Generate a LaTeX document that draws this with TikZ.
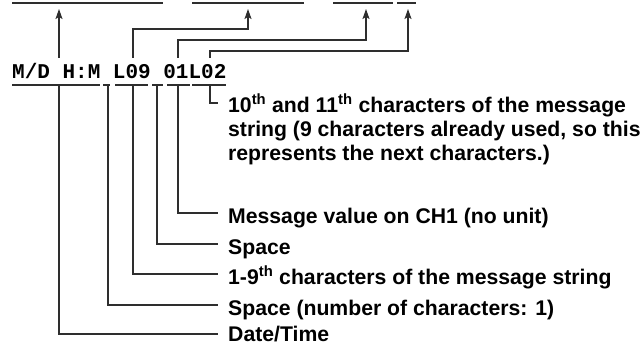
\documentclass[tikz,border=0pt]{standalone}
\usepackage{fontspec}
\setmainfont{Liberation Sans}
\newfontfamily\codefont{Liberation Mono}
\usetikzlibrary{arrows.meta}
\definecolor{linegray}{HTML}{2E2E2E}
\begin{document}
\begin{tikzpicture}[x=1pt,y=-1pt,
  lbl/.style={anchor=base west,inner sep=0pt,font=\fontsize{21.2}{24}\selectfont\bfseries},
  codetxt/.style={anchor=base west,inner sep=0pt,font=\fontsize{21}{24}\codefont\bfseries},
  bar/.style={draw=linegray,line width=2pt},
  uline/.style={draw=linegray,line width=1.7pt},
  conn/.style={draw=linegray,line width=1.2pt},
  arr/.style={conn,-{Stealth[length=10pt,width=7pt,inset=2pt]}}]
\useasboundingbox (0,0) rectangle (643,345);

% code string
\node[codetxt] (code) at (12,78) {M/D H:M L09 01L02};

% underline segments
\coordinate (ua1) at (12,85);  \coordinate (ub1) at (100,85);
\coordinate (ua2) at (103,85); \coordinate (ub2) at (110,85);
\coordinate (ua3) at (115,85); \coordinate (ub3) at (148,85);
\coordinate (ua4) at (152,85); \coordinate (ub4) at (163,85);
\coordinate (ua5) at (167,85); \coordinate (ub5) at (190,85);
\coordinate (ua6) at (192,85); \coordinate (ub6) at (226,85);
\foreach \i in {1,...,6} {\draw[uline] (ua\i) -- (ub\i);}

% top bars
\coordinate (ta1) at (12,3);  \coordinate (tb1) at (163,3);
\coordinate (ta2) at (192,3); \coordinate (tb2) at (304,3);
\coordinate (ta3) at (333,3); \coordinate (tb3) at (393,3);
\coordinate (ta4) at (397,3); \coordinate (tb4) at (416,3);
\foreach \i in {1,...,4} {\draw[bar] (ta\i) -- (tb\i);}

% arrow tips (just below bars)
\coordinate (tip1) at (59,9);
\coordinate (tip2) at (248,9);
\coordinate (tip3) at (366,9);
\coordinate (tip4) at (408,9);

% upper connector starts (just above code text)
\coordinate (s1) at (59,58);
\coordinate (s2) at (133,58);
\coordinate (s3) at (178,58);
\coordinate (s4) at (210,58);
\coordinate (k2) at (133,29);
\coordinate (k3) at (178,40);
\coordinate (k4) at (210,51);

\draw[arr] (s1) -- (tip1);
\draw[arr] (s2) -- (k2) -| (tip2);
\draw[arr] (s3) -- (k3) -| (tip3);
\draw[arr] (s4) -- (k4) -| (tip4);

% labels
\node[lbl] (la) at (228,112) {10\textsuperscript{th} and 11\textsuperscript{th} characters of the message};
\node[lbl] (lb) at (228,136) {string (9 characters already used, so this};
\node[lbl] (lc) at (228,160) {represents the next characters.)};
\node[lbl] (lmsg) at (228,223) {Message value on CH1 (no unit)};
\node[lbl] (lsp2) at (228,254) {Space};
\node[lbl] (lstr) at (228,284) {1-9\textsuperscript{th} characters of the message string};
\node[lbl] (lsp1) at (228,315) {Space (number of characters: 1)};
\node[lbl] (ldt) at (228,341) {Date/Time};

% lower connectors
\coordinate (d1) at (59,86);
\coordinate (d2) at (108,86);
\coordinate (d3) at (133,86);
\coordinate (d4) at (157,86);
\coordinate (d5) at (178,86);
\coordinate (d6) at (210,86);

\draw[conn] (d6) |- ([xshift=-10pt,yshift=9pt]la.base west);
\draw[conn] (d5) |- ([xshift=-10pt,yshift=10pt]lmsg.base west);
\draw[conn] (d4) |- ([xshift=-10pt,yshift=10pt]lsp2.base west);
\draw[conn] (d3) |- ([xshift=-10pt,yshift=10pt]lstr.base west);
\draw[conn] (d2) |- ([xshift=-10pt,yshift=10pt]lsp1.base west);
\draw[conn] (d1) |- ([xshift=-10pt,yshift=7pt]ldt.base west);
\end{tikzpicture}
\end{document}
